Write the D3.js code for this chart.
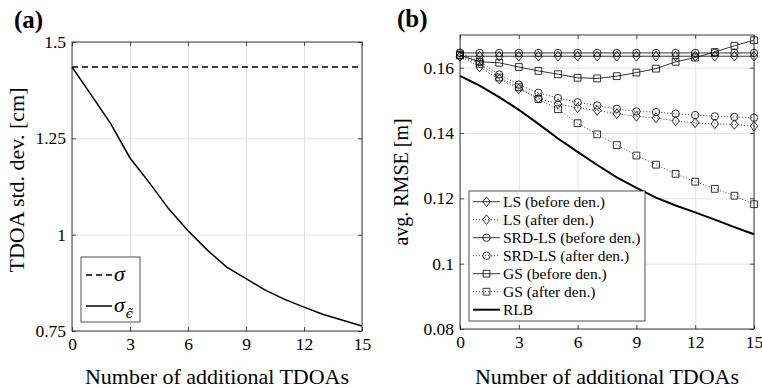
<!DOCTYPE html>
<html>
<head>
<meta charset="utf-8">
<script src="https://cdn.jsdelivr.net/npm/d3@7"></script>
<style>
  body { margin: 0; background: #fff; }
  svg text { font-family: "Liberation Serif", "Times New Roman", serif; fill: #000; }
</style>
</head>
<body>
<script>
// number of additional TDOAs (shared x values)
var nAdd = [0, 1, 2, 3, 4, 5, 6, 7, 8, 9, 10, 11, 12, 13, 14, 15];
var xTicks = [0, 3, 6, 9, 12, 15];

// panel (a): TDOA std. dev. [cm]
var sigmaLevel = 1.435;
var sigmaEps = [1.435, 1.362, 1.288, 1.199, 1.135, 1.067, 1.010, 0.960, 0.916, 0.886, 0.856, 0.832, 0.812, 0.793, 0.778, 0.763];
var yTicksA = [0.75, 1, 1.25, 1.5];

// panel (b): avg. RMSE [m]
var lsBefore  = [0.1635, 0.1635, 0.1635, 0.1635, 0.1635, 0.1635, 0.1635, 0.1635, 0.1635, 0.1635, 0.1635, 0.1635, 0.1635, 0.1635, 0.1635, 0.1635];
var lsAfter   = [0.1635, 0.1602, 0.1565, 0.1535, 0.1506, 0.1489, 0.1477, 0.1469, 0.1459, 0.1451, 0.1446, 0.1437, 0.1431, 0.1428, 0.1426, 0.1421];
var srdBefore = [0.1645, 0.1645, 0.1645, 0.1645, 0.1645, 0.1645, 0.1645, 0.1645, 0.1645, 0.1645, 0.1645, 0.1645, 0.1645, 0.1645, 0.1645, 0.1645];
var srdAfter  = [0.1645, 0.1619, 0.1579, 0.1548, 0.1523, 0.1507, 0.1494, 0.1484, 0.1474, 0.1466, 0.1464, 0.1459, 0.1455, 0.1451, 0.1449, 0.1447];
var gsBefore  = [0.1638, 0.1618, 0.1615, 0.1602, 0.1590, 0.1580, 0.1569, 0.1567, 0.1574, 0.1585, 0.1597, 0.1618, 0.1631, 0.1648, 0.1667, 0.1684];
var gsAfter   = [0.1638, 0.1612, 0.1570, 0.1540, 0.1504, 0.1473, 0.1430, 0.1396, 0.1363, 0.1331, 0.1303, 0.1275, 0.1251, 0.1229, 0.1208, 0.1182];
var rlb       = [0.1575, 0.1545, 0.1510, 0.1471, 0.1428, 0.1383, 0.1342, 0.1302, 0.1264, 0.1232, 0.1202, 0.1178, 0.1157, 0.1135, 0.1112, 0.1090];
var yTicksB = [0.08, 0.1, 0.12, 0.14, 0.16];
var legendB = ["LS (before den.)", "LS (after den.)", "SRD-LS (before den.)", "SRD-LS (after den.)", "GS (before den.)", "GS (after den.)", "RLB"];

var axisCol = "#262626";
var gridCol = "#e3e3e3";
var serif = "'Liberation Serif', 'Times New Roman', serif";

var svg = d3.select("body").append("svg")
    .attr("width", 762)
    .attr("height", 388);

// frame: grid, box, inward ticks on all four sides, tick labels
function drawFrame(g, x, y, yTicks, w, h) {
    g.append("g").attr("transform", "translate(0," + h + ")")
        .call(d3.axisBottom(x).tickValues(xTicks).tickSize(-h).tickFormat(""))
        .call(function(s) { s.select(".domain").remove(); s.selectAll("line").attr("stroke", gridCol); });
    g.append("g")
        .call(d3.axisLeft(y).tickValues(yTicks).tickSize(-w).tickFormat(""))
        .call(function(s) { s.select(".domain").remove(); s.selectAll("line").attr("stroke", gridCol); });

    var fmt = function(d) { return String(d); };
    var axes = [
        g.append("g").attr("transform", "translate(0," + h + ")").call(d3.axisBottom(x).tickValues(xTicks).tickSizeInner(-4).tickSizeOuter(0).tickPadding(7).tickFormat(fmt)),
        g.append("g").call(d3.axisTop(x).tickValues(xTicks).tickSizeInner(-4).tickSizeOuter(0).tickFormat("")),
        g.append("g").call(d3.axisLeft(y).tickValues(yTicks).tickSizeInner(-4).tickSizeOuter(0).tickPadding(6).tickFormat(fmt)),
        g.append("g").attr("transform", "translate(" + w + ",0)").call(d3.axisRight(y).tickValues(yTicks).tickSizeInner(-4).tickSizeOuter(0).tickFormat(""))
    ];
    axes.forEach(function(a) {
        a.attr("font-family", null);
        a.select(".domain").remove();
        a.selectAll("line").attr("stroke", axisCol).attr("stroke-width", 0.8);
        a.selectAll("text").attr("fill", "#000").style("font-family", serif).style("font-size", "17.5px");
    });
}

function drawBox(g, w, h) {
    g.append("rect").attr("width", w).attr("height", h)
        .attr("fill", "none").attr("stroke", axisCol).attr("stroke-width", 0.9);
}

// ---------------- panel (a) ----------------
var wA = 290, hA = 289;
var gA = svg.append("g").attr("transform", "translate(72,42)");
var xA = d3.scaleLinear().domain([0, 15]).range([0, wA]);
var yA = d3.scaleLinear().domain([0.75, 1.5]).range([hA, 0]);
drawFrame(gA, xA, yA, yTicksA, wA, hA);

gA.append("line")
    .attr("x1", xA(0)).attr("x2", xA(15))
    .attr("y1", yA(sigmaLevel)).attr("y2", yA(sigmaLevel))
    .attr("stroke", "#000").attr("stroke-width", 1.5).attr("stroke-dasharray", "6,4");

var lineA = d3.line().x(function(d, i) { return xA(nAdd[i]); }).y(function(d) { return yA(d); });
gA.append("path").datum(sigmaEps)
    .attr("d", lineA).attr("fill", "none").attr("stroke", "#000").attr("stroke-width", 1.5);
drawBox(gA, wA, hA);

// legend (a)
var legA = gA.append("g").attr("transform", "translate(9,215)");
legA.append("rect").attr("width", 59).attr("height", 65)
    .attr("fill", "#fff").attr("stroke", axisCol).attr("stroke-width", 0.8);
legA.append("line").attr("x1", 5).attr("x2", 31).attr("y1", 18).attr("y2", 18)
    .attr("stroke", "#000").attr("stroke-width", 1.5).attr("stroke-dasharray", "6,4");
legA.append("text").attr("x", 33).attr("y", 24).style("font-size", "22px").style("font-style", "italic").text("σ");
legA.append("line").attr("x1", 5).attr("x2", 31).attr("y1", 49).attr("y2", 49)
    .attr("stroke", "#000").attr("stroke-width", 1.5);
// sigma with subscript epsilon-tilde (combining tilde, DejaVu handles the mark)
var sig2 = legA.append("text").attr("x", 33).attr("y", 55).style("font-size", "22px").style("font-style", "italic");
sig2.append("tspan").text("σ");
sig2.append("tspan").attr("dx", 1).attr("dy", 6)
    .style("font-size", "13px").style("font-family", "'DejaVu Serif', serif")
    .text("\u03F5\u0303");

svg.append("text").attr("x", 14).attr("y", 28).style("font-size", "25px").style("font-weight", "bold").text("(a)");
svg.append("text").attr("x", 217).attr("y", 384).attr("text-anchor", "middle").style("font-size", "22px").text("Number of additional TDOAs");
svg.append("text").attr("transform", "translate(24,180) rotate(-90)").attr("text-anchor", "middle").style("font-size", "22px").text("TDOA std. dev.  [cm]");

// ---------------- panel (b) ----------------
var wB = 294, hB = 294;
var gB = svg.append("g").attr("transform", "translate(460,35)");
var xB = d3.scaleLinear().domain([0, 15]).range([0, wB]);
var yB = d3.scaleLinear().domain([0.08, 0.17]).range([hB, 0]);
drawFrame(gB, xB, yB, yTicksB, wB, hB);

var series = [
    { name: legendB[0], vals: lsBefore,  marker: "diamond", dash: null },
    { name: legendB[1], vals: lsAfter,   marker: "diamond", dash: "1,2" },
    { name: legendB[2], vals: srdBefore, marker: "circle",  dash: null },
    { name: legendB[3], vals: srdAfter,  marker: "circle",  dash: "1,2" },
    { name: legendB[4], vals: gsBefore,  marker: "square",  dash: null },
    { name: legendB[5], vals: gsAfter,   marker: "square",  dash: "1,2" },
    { name: legendB[6], vals: rlb,       marker: null,      dash: null, thick: true }
];

function markerPath(type) {
    if (type === "diamond") return "M0,-4.8L3.8,0L0,4.8L-3.8,0Z";
    if (type === "square") return "M-3.4,-3.4H3.4V3.4H-3.4Z";
    return "M3.7,0A3.7,3.7 0 1,1 -3.7,0A3.7,3.7 0 1,1 3.7,0Z";
}

var lineB = d3.line().x(function(d, i) { return xB(nAdd[i]); }).y(function(d) { return yB(d); });

series.forEach(function(s) {
    gB.append("path").datum(s.vals)
        .attr("d", lineB).attr("fill", "none").attr("stroke", "#000")
        .attr("stroke-width", s.thick ? 2 : 0.8)
        .attr("stroke-dasharray", s.dash);
    if (s.marker) {
        gB.append("g").selectAll("path")
            .data(s.vals)
            .enter()
            .append("path")
            .attr("transform", function(d, i) { return "translate(" + xB(nAdd[i]) + "," + yB(d) + ")"; })
            .attr("d", markerPath(s.marker))
            .attr("fill", "none").attr("stroke", "#000").attr("stroke-width", 0.8);
    }
});
drawBox(gB, wB, hB);

// legend (b)
var legB = gB.append("g").attr("transform", "translate(9,156)");
legB.append("rect").attr("width", 176).attr("height", 130)
    .attr("fill", "#fff").attr("stroke", axisCol).attr("stroke-width", 0.8);
var rows = legB.selectAll("g.row").data(series).enter().append("g")
    .attr("class", "row")
    .attr("transform", function(d, i) { return "translate(0," + (10.7 + i * 18) + ")"; });
rows.append("line").attr("x1", 4).attr("x2", 31).attr("y1", 0).attr("y2", 0)
    .attr("stroke", "#000")
    .attr("stroke-width", function(d) { return d.thick ? 2 : 0.8; })
    .attr("stroke-dasharray", function(d) { return d.dash; });
rows.filter(function(d) { return d.marker; }).append("path")
    .attr("transform", "translate(17.5,0)")
    .attr("d", function(d) { return markerPath(d.marker); })
    .attr("fill", "none").attr("stroke", "#000").attr("stroke-width", 0.8);
rows.append("text").attr("x", 34).attr("y", 5).style("font-size", "15.5px").text(function(d) { return d.name; });

svg.append("text").attr("x", 397).attr("y", 27).style("font-size", "25px").style("font-weight", "bold").text("(b)");
svg.append("text").attr("x", 607).attr("y", 384).attr("text-anchor", "middle").style("font-size", "22px").text("Number of additional TDOAs");
svg.append("text").attr("transform", "translate(408,182) rotate(-90)").attr("text-anchor", "middle").style("font-size", "20px").text("avg. RMSE [m]");
</script>
</body>
</html>
